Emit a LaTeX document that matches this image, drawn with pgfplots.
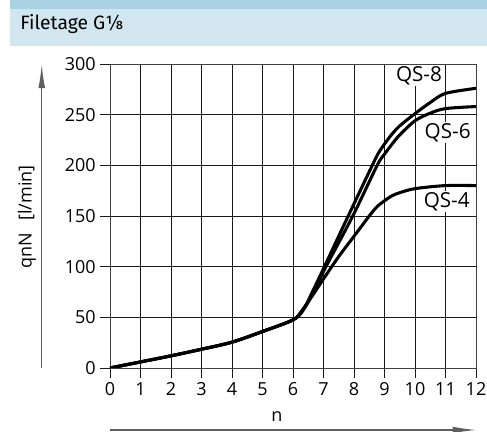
\documentclass[border=0pt]{standalone}
\usepackage{pgfplots}
\pgfplotsset{compat=1.18}
\usetikzlibrary{arrows.meta}
\usepackage{fontspec}
\setmainfont{Open Sans}
\newfontfamily\headfont{Fira Sans}
\definecolor{bandA}{RGB}{169,208,227}
\definecolor{bandB}{RGB}{210,230,240}
\definecolor{axgray}{RGB}{95,95,95}

\begin{document}
\begin{tikzpicture}
\path[use as bounding box] (0,0) rectangle (365.25pt,-324pt);
% header bands
\fill[bandA] (7.5pt,0) rectangle (365.25pt,-6.75pt);
\fill[bandB] (7.5pt,-6.75pt) rectangle (365.25pt,-34.5pt);
\node[anchor=base west, inner sep=0, font=\headfont\fontsize{14.5}{16}\selectfont] at (15pt,-22pt) {Filetage G⅛};

\begin{axis}[
    at={(82.5pt,-276pt)}, anchor=south west,
    scale only axis, width=274.5pt, height=228pt,
    xmin=0, xmax=12, ymin=0, ymax=300,
    xtick={0,1,...,12}, ytick={0,50,...,300},
    xtick pos=bottom, ytick pos=left,
    grid=major,
    major grid style={black!90, line width=0.7pt},
    axis line style={black!75, line width=0.7pt},
    tick align=outside, major tick length=7.2pt,
    tick style={black!90, line width=0.7pt},
    tick label style={font=\fontsize{13.5}{15}\selectfont},
    /pgf/number format/assume math mode=true,
    ]
    % QS-8
    \addplot[black, line width=2.3pt, smooth, tension=0.5] coordinates {
        (0,0) (1,6) (2,12) (3,18.5) (4,25.5) (5,36) (6,47.5)
        (6.33,57) (6.65,76) (7.03,100) (7.81,150) (8.6,200) (8.8,212)
        (9,221) (9.25,231) (9.5,239) (10,251) (10.5,262) (11,271) (12,276)
    };
    % QS-6
    \addplot[black, line width=2.3pt, smooth, tension=0.5] coordinates {
        (0,0) (1,6) (2,12) (3,18.5) (4,25.5) (5,36) (6,47.5)
        (6.33,57) (6.67,75) (7.08,100) (7.96,150) (8.76,200)
        (9,211) (9.25,221) (9.5,230) (10,244) (10.5,251.5) (11,256) (12,258)
    };
    % QS-4
    \addplot[black, line width=2.3pt, smooth, tension=0.5] coordinates {
        (0,0) (1,6) (2,12) (3,18.5) (4,25.5) (5,36) (6,47.5)
        (6.3,57) (6.65,72) (7,88) (7.5,110) (8,130) (8.5,150) (8.75,159)
        (9,165) (9.25,170) (9.5,173) (10,177) (11,180) (12,180)
    };
    \node[fill=white, inner sep=1pt, font=\fontsize{15.5}{17}\selectfont] at (axis cs:10.13,288.7) {QS-8};
    \node[fill=white, inner sep=1pt, font=\fontsize{15.5}{17}\selectfont] at (axis cs:11.07,232.4) {QS-6};
    \node[fill=white, inner sep=1pt, font=\fontsize{15.5}{17}\selectfont] at (axis cs:11.04,164.1) {QS-4};
\end{axis}

% axis arrows and labels
\draw[axgray, line width=1pt, -{Latex[length=18pt,width=5pt]}] (31.3pt,-276pt) -- (31.3pt,-48pt);
\draw[axgray, line width=1pt, -{Latex[length=18pt,width=5pt]}] (82.5pt,-322.5pt) -- (357.4pt,-322.5pt);
\node[rotate=90, font=\fontsize{13.5}{15}\selectfont] at (20.25pt,-162.75pt) {qnN\hspace{0.7em}[l/min]};
\node[font=\fontsize{13.5}{15}\selectfont] at (207.75pt,-312.4pt) {n};
\end{tikzpicture}
\end{document}
